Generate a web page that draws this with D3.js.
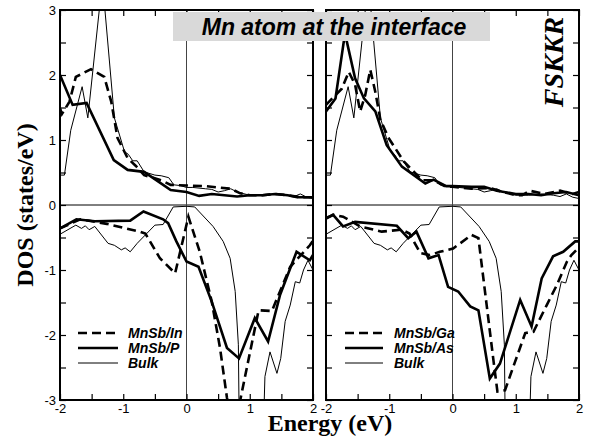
<!DOCTYPE html>
<html><head><meta charset="utf-8">
<script src="https://cdn.jsdelivr.net/npm/d3@7"></script>
<style>body{margin:0;background:#fff}svg{display:block}</style>
</head><body>
<svg id="chart" width="594" height="443"></svg>
<script>
// ---------- data ----------
const xTicks = [-2, -1.5, -1, -0.5, 0, 0.5, 1, 1.5, 2];
const yTicks = [-3, -2.5, -2, -1.5, -1, -0.5, 0, 0.5, 1, 1.5, 2, 2.5, 3];

// Bulk (same in both panels)
const bulkUpE = [-2.0,-1.93,-1.83,-1.65,-1.56,-1.33,-1.14,-0.98,-0.92,-0.85,-0.78,-0.67,-0.5,-0.4,-0.28,-0.2,-0.1,0.0,0.1,0.3,0.4,0.5,0.6,0.7,0.8,1.0,1.2,1.4,1.6,1.7,1.8,1.9,2.0];
const bulkUp  = [0.46,0.46,1.15,1.82,1.34,3.45,1.34,0.82,0.78,0.68,0.68,0.51,0.46,0.45,0.42,0.31,0.3,0.27,0.27,0.25,0.24,0.2,0.22,0.25,0.2,0.15,0.15,0.17,0.15,0.13,0.17,0.12,0.1];
const bulkDnE = [-2.0,-1.75,-1.66,-1.6,-1.54,-1.45,-1.24,-1.14,-1.03,-0.97,-0.89,-0.78,-0.63,-0.5,-0.37,-0.21,0.0,0.13,0.42,0.58,0.69,0.77,0.82,0.84,1.2,1.24,1.32,1.43,1.49,1.56,1.64,1.72,1.79,1.85,1.92,2.0];
const bulkDn  = [-0.45,-0.31,-0.36,-0.32,-0.38,-0.33,-0.59,-0.62,-0.69,-0.66,-0.72,-0.59,-0.44,-0.31,-0.3,-0.03,-0.02,-0.03,-0.33,-0.56,-0.82,-1.33,-2.15,-4.0,-4.0,-2.64,-2.26,-2.59,-2.36,-1.79,-1.54,-1.18,-1.2,-1.0,-0.85,-1.0];

// MnSb/In (left, dashed)
const inUpE = [-2.0,-1.97,-1.85,-1.75,-1.51,-1.30,-1.19,-1.09,-0.93,-0.80,-0.67,-0.4,-0.25,0.0,0.3,0.5,0.7,0.85,1.0,1.2,1.4,1.6,1.8,2.0];
const inUp  = [1.49,1.40,1.59,1.97,2.09,1.97,1.59,1.03,0.72,0.6,0.46,0.38,0.31,0.3,0.29,0.27,0.25,0.18,0.15,0.15,0.17,0.15,0.12,0.12];
const inDnE = [-2.0,-1.68,-1.26,-0.74,-0.65,-0.42,-0.18,0.03,0.21,0.40,0.53,0.64,0.75,0.85,1.14,1.35,1.64,1.95,2.0];
const inDn  = [-0.36,-0.22,-0.29,-0.41,-0.44,-0.82,-1.05,-0.18,-0.72,-1.49,-2.2,-2.97,-3.4,-3.0,-1.62,-1.63,-0.95,-0.62,-0.55];

// MnSb/P (left, solid)
const pUpE = [-2.0,-1.8,-1.58,-1.15,-0.93,-0.67,-0.25,0.0,0.2,0.4,0.6,0.8,1.0,1.2,1.4,1.6,1.75,2.0];
const pUp  = [2.0,1.54,1.57,0.69,0.54,0.51,0.23,0.2,0.14,0.17,0.15,0.13,0.15,0.15,0.17,0.15,0.12,0.12];
const pDnE = [-2.0,-1.74,-1.45,-0.89,-0.68,-0.37,-0.29,-0.16,0.0,0.19,0.40,0.64,0.83,1.08,1.29,1.48,1.74,1.95,2.0];
const pDn  = [-0.36,-0.22,-0.25,-0.24,-0.10,-0.22,-0.28,-0.56,-0.87,-0.95,-1.49,-2.2,-2.36,-1.74,-2.1,-1.38,-0.72,-0.85,-0.77];

// MnSb/Ga (right, dashed)
const gaUpE = [-2.0,-1.85,-1.75,-1.64,-1.54,-1.46,-1.38,-1.30,-1.22,-1.14,-1.01,-0.77,-0.48,-0.3,-0.1,0.0,0.3,0.6,0.8,1.0,1.1,1.22,1.45,1.7,1.9,2.0];
const gaUp  = [1.54,1.69,1.79,2.05,1.85,1.44,1.69,2.08,1.74,1.31,1.03,0.67,0.38,0.38,0.28,0.28,0.25,0.26,0.2,0.15,0.15,0.22,0.17,0.22,0.17,0.2];
const gaDnE = [-2.0,-1.88,-1.73,-1.46,-1.12,-0.80,-0.68,-0.51,-0.36,-0.2,0.01,0.30,0.41,0.54,0.65,0.71,0.83,0.99,1.15,1.28,1.49,1.65,1.81,1.88,2.0];
const gaDn  = [-0.2,-0.15,-0.18,-0.33,-0.41,-0.38,-0.44,-0.74,-0.77,-0.72,-0.67,-0.46,-0.51,-1.54,-2.41,-2.87,-2.85,-2.41,-1.97,-1.95,-1.54,-1.23,-0.87,-0.77,-0.65];

// MnSb/As (right, solid)
const asUpE = [-2.0,-1.85,-1.70,-1.54,-1.40,-1.22,-1.04,-0.80,-0.43,-0.3,-0.1,0.0,0.3,0.5,0.7,1.0,1.2,1.4,1.6,1.8,2.0];
const asUp  = [1.44,1.64,2.64,1.95,1.64,1.44,0.92,0.59,0.33,0.39,0.29,0.29,0.28,0.28,0.22,0.17,0.17,0.15,0.18,0.2,0.15];
const asDnE = [-2.0,-1.89,-1.73,-1.54,-0.88,-0.70,-0.57,-0.38,-0.22,-0.07,0.09,0.28,0.41,0.59,0.75,1.07,1.25,1.41,1.59,1.75,1.94,2.0];
const asDn  = [-0.21,-0.15,-0.33,-0.26,-0.32,-0.51,-0.41,-0.82,-0.77,-1.26,-1.33,-1.56,-1.62,-2.67,-2.44,-1.46,-1.87,-1.13,-0.79,-0.72,-0.56,-0.56];

const legendLeft  = ["MnSb/In", "MnSb/P", "Bulk"];
const legendRight = ["MnSb/Ga", "MnSb/As", "Bulk"];
const titleText = "Mn atom at the interface";
const sideText = "FSKKR";
const xLabel = "Energy (eV)";
const yLabel = "DOS (states/eV)";

// ---------- drawing ----------
const svg = d3.select("#chart");
svg.append("rect").attr("width",594).attr("height",443).attr("fill","#fff");

const y = d3.scaleLinear().domain([-3,3]).range([400,10]);
const styles = {
  dashed: {w:2.6, dash:"9,5"},
  solid:  {w:2.6, dash:null},
  thin:   {w:1, dash:null}
};
const zip = (E,V) => E.map((e,i)=>[e,V[i]]);

const panels = [
  {id:"L", range:[60,313], series:[
     {E:bulkUpE,V:bulkUp,s:"thin"},{E:bulkDnE,V:bulkDn,s:"thin"},
     {E:inUpE,V:inUp,s:"dashed"},{E:inDnE,V:inDn,s:"dashed"},
     {E:pUpE,V:pUp,s:"solid"},{E:pDnE,V:pDn,s:"solid"}],
   legend:legendLeft, yLabels:true},
  {id:"R", range:[326,579], series:[
     {E:bulkUpE,V:bulkUp,s:"thin"},{E:bulkDnE,V:bulkDn,s:"thin"},
     {E:gaUpE,V:gaUp,s:"dashed"},{E:gaDnE,V:gaDn,s:"dashed"},
     {E:asUpE,V:asUp,s:"solid"},{E:asDnE,V:asDn,s:"solid"}],
   legend:legendRight, yLabels:false}
];

const defs = svg.append("defs");
const fmt = d => Number.isInteger(d) ? String(d) : "";

panels.forEach(p => {
  const x = d3.scaleLinear().domain([-2,2]).range(p.range);
  const [x0,x1] = p.range;
  defs.append("clipPath").attr("id","clip"+p.id)
    .append("rect").attr("x",x0).attr("y",y(3)).attr("width",x1-x0).attr("height",y(-3)-y(3));
  const g = svg.append("g");
  // zero lines
  g.append("line").attr("x1",x0).attr("x2",x1).attr("y1",y(0)).attr("y2",y(0))
    .attr("stroke","#000").attr("stroke-width",1);
  g.append("line").attr("x1",x(0)).attr("x2",x(0)).attr("y1",y(3)).attr("y2",y(-3))
    .attr("stroke","#444").attr("stroke-width",1);
  const line = d3.line().x(d=>x(d[0])).y(d=>y(d[1]));
  const cg = g.append("g").attr("clip-path","url(#clip"+p.id+")");
  p.series.forEach(s => {
    const st = styles[s.s];
    cg.append("path").datum(zip(s.E,s.V)).attr("d",line)
      .attr("fill","none").attr("stroke","#000").attr("stroke-width",st.w)
      .attr("stroke-linejoin","miter").attr("stroke-dasharray",st.dash);
  });
  // axes
  const ax = (gen) => gen.tickSizeInner(-6).tickSizeOuter(0);
  const bottom = g.append("g").attr("transform",`translate(0,${y(-3)})`)
    .call(ax(d3.axisBottom(x)).tickValues(xTicks).tickFormat(fmt).tickPadding(4));
  const top = g.append("g").attr("transform",`translate(0,${y(3)})`)
    .call(ax(d3.axisTop(x)).tickValues(xTicks).tickFormat(""));
  const left = g.append("g").attr("transform",`translate(${x0},0)`)
    .call(ax(d3.axisLeft(y)).tickValues(yTicks).tickFormat(p.yLabels ? fmt : "").tickPadding(4));
  const right = g.append("g").attr("transform",`translate(${x1},0)`)
    .call(ax(d3.axisRight(y)).tickValues(yTicks).tickFormat(""));
  [bottom,top,left,right].forEach(a => {
    a.select(".domain").remove();
    a.selectAll("line").attr("stroke","#000").attr("stroke-width",1.2);
    a.selectAll("text").attr("font-family","Liberation Sans, Arial, sans-serif")
      .attr("font-size",13).attr("fill","#000");
  });
  // frame
  g.append("rect").attr("x",x0).attr("y",y(3)).attr("width",x1-x0).attr("height",y(-3)-y(3))
    .attr("fill","none").attr("stroke","#000").attr("stroke-width",2);
  // legend
  const lx0 = p.id==="L" ? 78 : 345, lx1 = p.id==="L" ? 118 : 383, tx = p.id==="L" ? 128 : 394;
  const ly = [333,348,363];
  ["dashed","solid","thin"].forEach((k,i) => {
    const st = styles[k];
    g.append("line").attr("x1",lx0).attr("x2",lx1).attr("y1",ly[i]).attr("y2",ly[i])
      .attr("stroke","#000").attr("stroke-width",st.w).attr("stroke-dasharray",st.dash);
    g.append("text").attr("x",tx).attr("y",ly[i]+5).text(p.legend[i])
      .attr("font-family","Liberation Sans, Arial, sans-serif").attr("font-size",14)
      .attr("font-weight","bold").attr("font-style","italic");
  });
});

// title box
svg.append("rect").attr("x",173).attr("y",12).attr("width",317).attr("height",29).attr("fill","#d9d9d9");
svg.append("text").attr("x",334).attr("y",35).attr("text-anchor","middle").text(titleText)
  .attr("font-family","Liberation Sans, Arial, sans-serif").attr("font-size",23)
  .attr("font-weight","bold").attr("font-style","italic");
// side label
svg.append("text").attr("transform","translate(563,62) rotate(-90)").attr("text-anchor","middle")
  .text(sideText).attr("font-family","Liberation Serif, Times New Roman, serif").attr("font-size",28)
  .attr("font-weight","bold").attr("font-style","italic");
// axis labels
svg.append("text").attr("x",330).attr("y",431).attr("text-anchor","middle").text(xLabel)
  .attr("font-family","Liberation Serif, Times New Roman, serif").attr("font-size",24).attr("font-weight","bold");
svg.append("text").attr("transform","translate(33,205) rotate(-90)").attr("text-anchor","middle").text(yLabel)
  .attr("font-family","Liberation Serif, Times New Roman, serif").attr("font-size",24).attr("font-weight","bold");
</script>
</body></html>
